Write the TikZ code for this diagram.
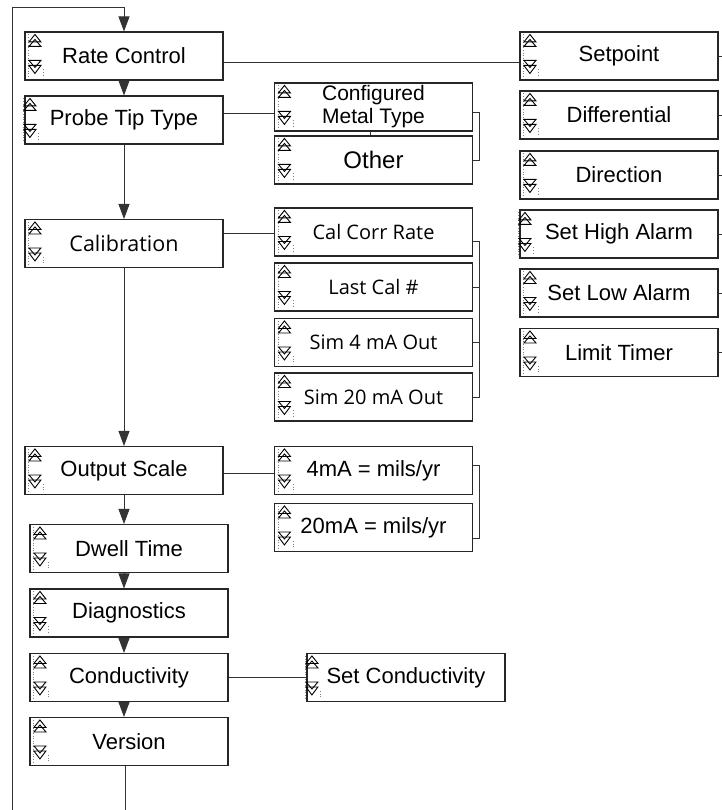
\documentclass[tikz,border=0pt]{standalone}
\usepackage{fontspec}
\setmainfont{Liberation Sans}
\newfontfamily\altfont{Open Sans}
\usetikzlibrary{arrows.meta,calc}
\tikzset{
  box/.style={draw=black!85, line width=1.1pt, minimum width=198pt, minimum height=48pt,
    inner sep=0pt, fill=white, font=\fontsize{22}{24}\selectfont, align=center},
  conn/.style={draw=black!80, line width=0.9pt},
  arr/.style={conn, -{Triangle[length=15pt,width=11pt]}},
  icn/.style={draw=black, line width=0.9pt},
  dots/.style={draw=black!50, line width=0.6pt, dotted},
}
\newcommand\icons[2]{%
  \begin{scope}[shift={(#1.north west)}, xshift=#2]
    \draw[dots] (4,3) -- (4,45);
    \draw[dots] (19,38) -- (19,45);
    \draw[icn] (10.5,3) -- (4.5,10.5) -- (16.5,10.5) -- cycle;
    \draw[icn] (10.5,8) -- (4.5,15) -- (16.5,15) -- cycle;
    \draw[icn] (4.5,29) -- (16.5,29) -- (10.5,36) -- cycle;
    \draw[icn] (4.5,34) -- (16.5,34) -- (10.5,42) -- cycle;
  \end{scope}}
\begin{document}
\begin{tikzpicture}[x=1pt,y=-1pt]
\useasboundingbox (0,0) rectangle (721,810);
% main column
\node[box] (rate)  at (124,56)    {Rate Control};
\node[box] (probe) at (124,120)   {Probe Tip Type};
\node[box, font=\altfont\fontsize{21.5}{24}\selectfont] (calib) at (124,243.5) {Calibration};
\node[box] (outs)  at (124,470.5) {Output Scale};
\node[box] (dwell) at (129,548.5) {Dwell Time};
\node[box] (diag)  at (129,613)   {Diagnostics};
\node[box] (cond)  at (129,677.5) {Conductivity};
\node[box] (ver)   at (129,741.5) {Version};
% probe tip sub
\node[box, font=\fontsize{21}{23}\selectfont] (conf) at (373.5,107) {Configured\\Metal Type};
\node[box, font=\fontsize{24}{26}\selectfont] (other) at (373.5,160) {Other};
% calibration sub
\node[box, font=\altfont\fontsize{20}{24}\selectfont] (calcorr) at (373.5,232) {Cal Corr Rate};
\node[box, font=\altfont\fontsize{20}{24}\selectfont] (lastcal) at (373.5,287) {Last Cal \#};
\node[box, font=\altfont\fontsize{20}{24}\selectfont] (sim4) at (373.5,342.5) {Sim 4 mA Out};
\node[box, font=\altfont\fontsize{20}{24}\selectfont] (sim20) at (373.5,397) {Sim 20 mA Out};
% output scale sub
\node[box] (ma4)  at (373.5,470.5) {4mA = mils/yr};
\node[box] (ma20) at (373.5,527.5) {20mA = mils/yr};
% rate control sub
\node[box] (sp)   at (619,56)    {Setpoint};
\node[box] (diff) at (619,115)   {Differential};
\node[box] (dir)  at (619,175)   {Direction};
\node[box] (sha)  at (619,234)   {Set High Alarm};
\node[box] (sla)  at (619,293)   {Set Low Alarm};
\node[box] (lt)   at (619,352.5) {Limit Timer};
% conductivity sub
\node[box] (setc) at (406,677.5) {Set Conductivity};
% icons
\foreach \n in {rate,calib,outs,dwell,diag,cond,ver,conf,other,calcorr,lastcal,sim4,sim20,ma4,ma20,sp,diff,dir,sla,lt}{\icons{\n}{0pt}}
\foreach \n in {probe,sha,setc}{\icons{\n}{-5pt}}
% loop coordinates
\coordinate (bl) at (12,810);
\coordinate (tl) at (12,7);
\coordinate (bot) at (125,810);
% main flow
\draw[arr] (bl) -- (tl) -- (tl -| rate.north) -- (rate.north);
\draw[arr] (rate.south) -- (probe.north);
\draw[arr] (probe.south) -- (calib.north);
\draw[arr] (calib.south) -- (outs.north);
\draw[arr] (outs.south) -- (outs.south |- dwell.north);
\draw[arr] (dwell.south -| outs.south) -- (diag.north -| outs.south);
\draw[arr] (diag.south -| outs.south) -- (cond.north -| outs.south);
\draw[arr] (cond.south -| outs.south) -- (ver.north -| outs.south);
\draw[conn] (ver.south -| bot) -- (bot);
% side branches
\draw[conn] ([yshift=-6pt]rate.east) -- ([yshift=-6pt]rate.east -| sp.west);
\draw[conn] ([yshift=7pt]probe.east) -- ([yshift=7pt]probe.east -| conf.west);
\draw[conn] ([yshift=10pt]calib.east) -- ([yshift=10pt]calib.east -| calcorr.west);
\draw[conn] ([yshift=-3pt]outs.east) -- ([yshift=-3pt]outs.east -| ma4.west);
\draw[conn] (cond.east) -- (setc.west);
\draw[conn] ([xshift=-3pt]conf.south) -- ([xshift=-3pt]other.north);
% brackets
\draw[conn] ([yshift=-5pt]conf.east) -- ++(6,0) |- (other.east);
\draw[conn] ([yshift=-9pt]calcorr.east) -- ++(6,0) |- (sim20.east);
\draw[conn] (lastcal.east) -- ++(6,0);
\draw[conn] (sim4.east) -- ++(6,0);
\draw[conn] ([yshift=5pt]ma4.east) -- ++(6,0) |- ([yshift=-11pt]ma20.east);
% stubs at right edge
\foreach \n in {sp,diff,dir,sha,sla,lt}{\draw[conn] (\n.east) -- ++(5,0);}
\end{tikzpicture}
\end{document}
